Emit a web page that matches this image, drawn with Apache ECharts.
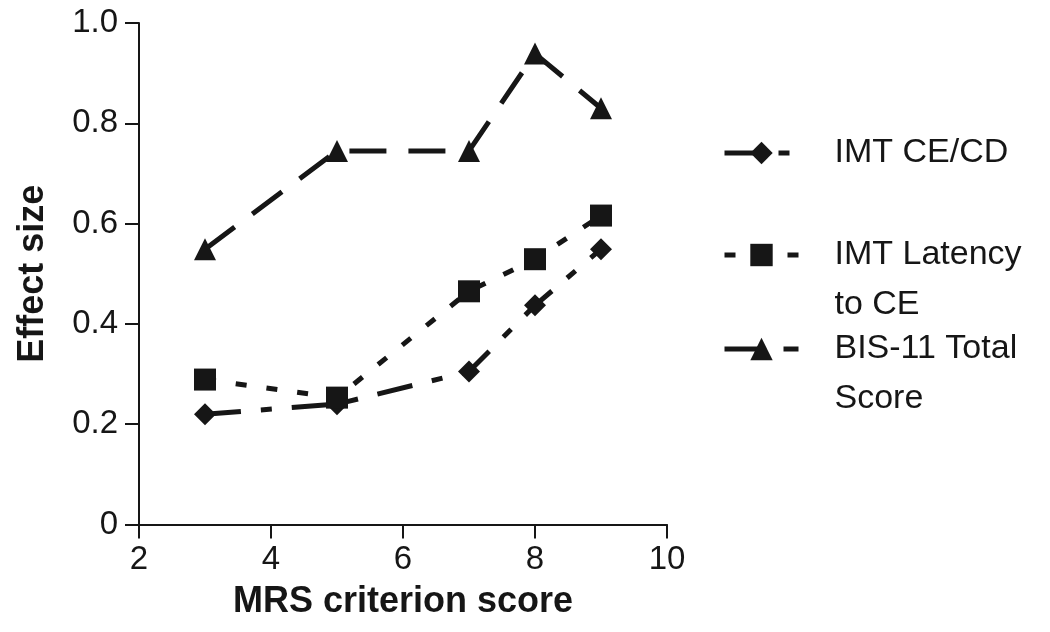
<!DOCTYPE html>
<html>
<head>
<meta charset="utf-8">
<script src="https://cdn.jsdelivr.net/npm/echarts@6/dist/echarts.min.js"></script>
<style>
  html, body { margin: 0; padding: 0; background: #fff; }
  #chart { width: 1050px; height: 632px; }
</style>
</head>
<body>
<div id="chart"></div>
<script>
// ---- data ----
const xValues = [3, 5, 7, 8, 9];
const imtCeCd = [0.22, 0.24, 0.305, 0.437, 0.549];
const imtLatency = [0.289, 0.253, 0.465, 0.529, 0.616];
const bisTotal = [0.549, 0.745, 0.745, 0.939, 0.83];
const seriesNames = ['IMT CE/CD', 'IMT Latency\nto CE', 'BIS-11 Total\nScore'];
const xTicks = [2, 4, 6, 8, 10];
const yTicks = [0, 0.2, 0.4, 0.6, 0.8, 1.0];

const INK = '#161616';
const FONT = '"Liberation Sans", Arial, Helvetica, sans-serif';

function pairs(ys) { return xValues.map((x, i) => [x, ys[i]]); }

function lineSeries(name, ys, symbol, dash) {
  return {
    name: name,
    type: 'line',
    data: pairs(ys),
    symbol: symbol,
    symbolSize: 22,
    showSymbol: true,
    itemStyle: { color: INK },
    lineStyle: { color: INK, width: 5, type: dash, cap: 'butt' },
    emphasis: { disabled: true },
    z: 3
  };
}

function legendFor(name, top, dash, multiLine) {
  return {
    left: 722,
    top: top,
    orient: 'vertical',
    padding: 0,
    selectedMode: false,
    itemWidth: 74,
    itemHeight: 28,
    data: [name],
    // multi-line labels: an empty leading line keeps the first text line level with the icon
    formatter: n => multiLine ? '\n' + n : n,
    lineStyle: { width: 5, type: dash, color: INK, cap: 'butt' },
    itemStyle: { color: INK },
    textStyle: {
      fontFamily: FONT,
      fontSize: 34,
      color: INK,
      lineHeight: 50,
      padding: [0, 0, 0, 31]
    }
  };
}

const chart = echarts.init(document.getElementById('chart'), null, { renderer: 'canvas' });
chart.setOption({
  animation: false,
  backgroundColor: '#ffffff',
  grid: { left: 139, right: 383, top: 23, bottom: 107.5 },
  xAxis: {
    type: 'value',
    min: 2, max: 10, interval: 2,
    name: 'MRS criterion score',
    nameLocation: 'middle',
    nameGap: 60,
    nameTextStyle: { fontFamily: FONT, fontSize: 36, fontWeight: 'bold', color: INK },
    axisLine: { show: true, lineStyle: { color: INK, width: 2 } },
    axisTick: { show: true, length: 14, lineStyle: { color: INK, width: 2 } },
    axisLabel: {
      margin: 19, fontFamily: FONT, fontSize: 33, color: INK,
      formatter: v => xTicks.includes(v) ? String(v) : ''
    },
    splitLine: { show: false }
  },
  yAxis: {
    type: 'value',
    min: 0, max: 1, interval: 0.2,
    name: 'Effect size',
    nameLocation: 'middle',
    nameGap: 88,
    nameTextStyle: { fontFamily: FONT, fontSize: 36, fontWeight: 'bold', color: INK },
    axisLine: { show: true, lineStyle: { color: INK, width: 2 } },
    axisTick: { show: true, length: 14, lineStyle: { color: INK, width: 2 } },
    axisLabel: {
      margin: 21, fontFamily: FONT, fontSize: 33, color: INK,
      formatter: v => {
        const t = yTicks.find(k => Math.abs(k - v) < 1e-9);
        if (t === undefined) return '';
        return t === 0 ? '0' : t.toFixed(1);
      }
    },
    splitLine: { show: false }
  },
  legend: [
    legendFor(seriesNames[0], 128, [37, 17, 11, 100], false),
    legendFor(seriesNames[1], 180, [11, 52, 11, 100], true),
    legendFor(seriesNames[2], 274, [37, 22, 20, 100], true)
  ],
  series: [
    lineSeries(seriesNames[0], imtCeCd, 'diamond', [36, 20, 11, 20]),
    lineSeries(seriesNames[1], imtLatency, 'rect', [11, 20]),
    lineSeries(seriesNames[2], bisTotal, 'triangle', [37, 22])
  ]
});
</script>
</body>
</html>
